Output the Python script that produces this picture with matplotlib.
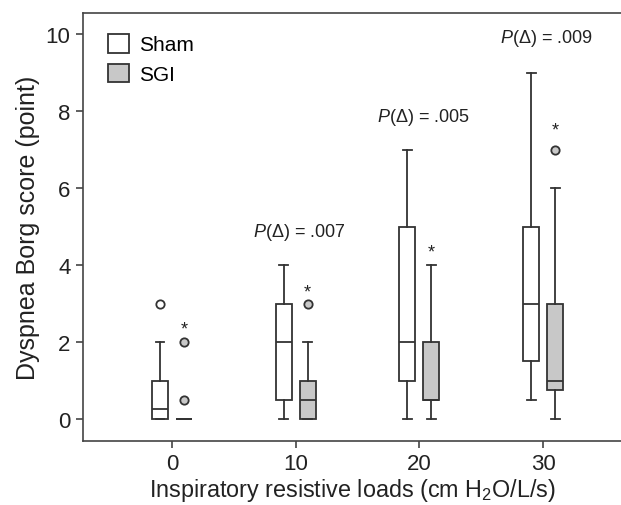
import matplotlib
matplotlib.use("Agg")
import matplotlib.pyplot as plt
from matplotlib.patches import Patch

plt.rcParams['font.family'] = ['Liberation Sans', 'DejaVu Sans']
plt.rcParams['mathtext.fontset'] = 'custom'
plt.rcParams['mathtext.rm'] = 'Liberation Sans'
plt.rcParams['mathtext.it'] = 'Liberation Sans:italic'

# Data
loads = ['0', '10', '20', '30']
sham_whislo = [0, 0, 0, 0.5]
sham_q1 = [0, 0.5, 1, 1.5]
sham_med = [0.25, 2, 2, 3]
sham_q3 = [1, 3, 5, 5]
sham_whishi = [2, 4, 7, 9]
sham_fliers = [[3], [], [], []]

sgi_whislo = [0, 0, 0, 0]
sgi_q1 = [0, 0, 0.5, 0.75]
sgi_med = [0, 0.5, 0.5, 1]
sgi_q3 = [0, 1, 2, 3]
sgi_whishi = [0, 2, 4, 6]
sgi_fliers = [[2, 0.5], [3], [], [7]]

star_y = [2.35, 3.3, 4.35, 7.5]
p_labels = ['', '.007', '.005', '.009']
p_y = [None, 4.6, 7.6, 9.65]

fig = plt.figure(figsize=(6.21, 5.06), dpi=100)
ax = fig.add_axes([0.1337, 0.1265, 0.8663, 0.8458])

edge = '#333333'
grey = '#c8c8c8'
off = 0.097
w = 0.13
lw = 1.3

def stats(wl, q1, med, q3, wh, fl):
    return [dict(whislo=a, q1=b, med=c, q3=d, whishi=e, fliers=f)
            for a, b, c, d, e, f in zip(wl, q1, med, q3, wh, fl)]

pos = list(range(len(loads)))
common = dict(widths=w, patch_artist=True, showfliers=True,
              whiskerprops=dict(color=edge, lw=lw),
              capprops=dict(color=edge, lw=lw),
              medianprops=dict(color=edge, lw=lw),
              capwidths=w * 0.55)

ax.bxp(stats(sham_whislo, sham_q1, sham_med, sham_q3, sham_whishi, sham_fliers),
       positions=[p - off for p in pos],
       boxprops=dict(facecolor='white', edgecolor=edge, lw=lw),
       flierprops=dict(marker='o', markersize=6, markerfacecolor='white',
                       markeredgecolor=edge, markeredgewidth=lw),
       **common)
ax.bxp(stats(sgi_whislo, sgi_q1, sgi_med, sgi_q3, sgi_whishi, sgi_fliers),
       positions=[p + off for p in pos],
       boxprops=dict(facecolor=grey, edgecolor=edge, lw=lw),
       flierprops=dict(marker='o', markersize=6, markerfacecolor=grey,
                       markeredgecolor=edge, markeredgewidth=lw),
       **common)

for p, sy in zip(pos, star_y):
    ax.text(p + off, sy, '*', ha='center', va='center', fontsize=13, color='#222222')

for p, lab, py in zip(pos, p_labels, p_y):
    if lab:
        ax.text(p + 0.03, py, r'$\mathit{P}$(Δ) = ' + lab, ha='center', va='bottom',
                fontsize=13, color='#222222')

ax.set_xlim(-0.72, 3.63)
ax.set_ylim(-0.57, 10.55)
ax.set_xticks(pos)
ax.set_xticklabels(loads)
ax.set_yticks([0, 2, 4, 6, 8, 10])
ax.tick_params(labelsize=16, length=5, width=1.2, color='#444444', labelcolor='#222222', pad=4)
for s in ['left', 'bottom', 'top']:
    ax.spines[s].set_color('#444444')
    ax.spines[s].set_linewidth(1.2)
ax.spines['right'].set_visible(False)

ax.set_xlabel('Inspiratory resistive loads (cm H$_2$O/L/s)', fontsize=16.8, color='#222222', labelpad=1)
ax.set_ylabel('Dyspnea Borg score (point)', fontsize=18, color='#222222', labelpad=4)

handles = [Patch(facecolor='white', edgecolor=edge, lw=lw, label='Sham'),
           Patch(facecolor=grey, edgecolor=edge, lw=lw, label='SGI')]
ax.legend(handles=handles, loc='upper left', frameon=False, fontsize=15,
          handlelength=1.0, handleheight=1.0, handletextpad=0.45,
          borderaxespad=0.3, labelspacing=0.45, bbox_to_anchor=(0.02, 0.985))

fig.savefig('out.png', dpi=100)
